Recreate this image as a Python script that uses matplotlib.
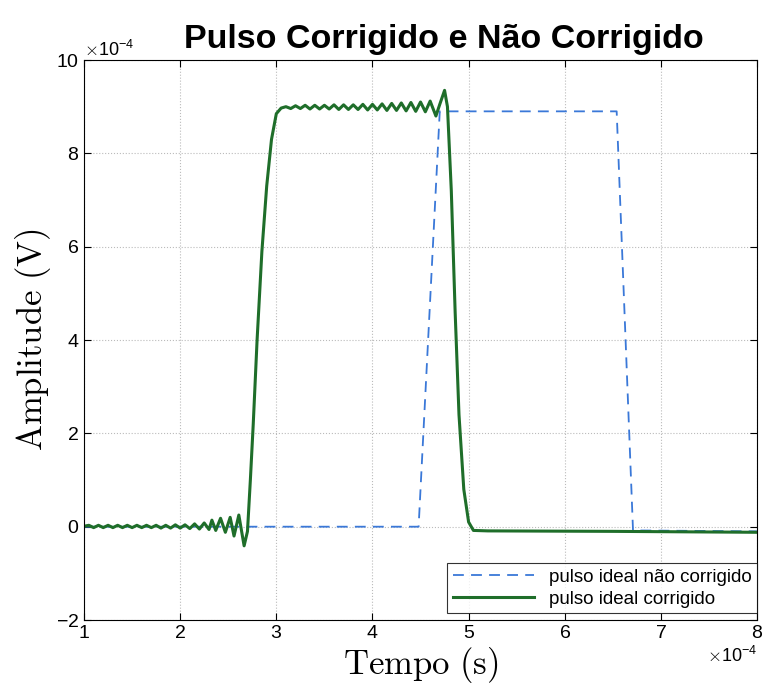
import matplotlib
matplotlib.use("Agg")
import matplotlib.pyplot as plt
from matplotlib.ticker import ScalarFormatter

# tempo e amplitude em unidades de 1e-4
t_ideal = [1.00, 4.48, 4.70, 6.54, 6.71, 8.00]
v_ideal = [0.0, 0.0, 8.9, 8.9, -0.08, -0.1]

t_corr = [1.00, 1.05, 1.10, 1.15, 1.20, 1.25, 1.30, 1.35, 1.40, 1.45, 1.50,
          1.55, 1.60, 1.65, 1.70, 1.75, 1.80, 1.85, 1.90, 1.95, 2.00, 2.05,
          2.10, 2.15, 2.20, 2.25, 2.30, 2.33, 2.37, 2.42, 2.47, 2.52, 2.56,
          2.61, 2.665, 2.70, 2.73, 2.76, 2.80, 2.85, 2.90, 2.95, 3.00, 3.05, 3.10,
          3.15, 3.20, 3.25, 3.30, 3.35, 3.40, 3.45, 3.50, 3.55, 3.60, 3.65,
          3.70, 3.75, 3.80, 3.85, 3.90, 3.95, 4.00, 4.05, 4.10, 4.15, 4.20,
          4.25, 4.30, 4.35, 4.40, 4.45, 4.50, 4.55, 4.60, 4.66, 4.70, 4.75,
          4.78, 4.82, 4.86, 4.90, 4.95, 5.00, 5.05, 5.20, 6.50, 8.00]
v_corr = [0.01, 0.03, -0.02, 0.03, -0.02, 0.03, -0.02, 0.03, -0.02, 0.03, -0.02,
          0.03, -0.02, 0.03, -0.02, 0.03, -0.03, 0.03, -0.03, 0.04, -0.03, 0.04,
          -0.04, 0.06, -0.05, 0.08, -0.06, 0.14, -0.08, 0.18, -0.12, 0.2, -0.2,
          0.25, -0.41, -0.1, 1.0, 2.2, 4.0, 5.9, 7.3, 8.3, 8.85, 8.97, 9.0,
          8.96, 9.02, 8.96, 9.03, 8.95, 9.03, 8.95, 9.03, 8.95, 9.04, 8.94,
          9.04, 8.94, 9.04, 8.94, 9.05, 8.93, 9.05, 8.93, 9.06, 8.92, 9.07,
          8.92, 9.08, 8.91, 9.09, 8.90, 9.10, 8.89, 9.12, 8.80, 9.05, 9.35,
          9.0, 7.2, 4.6, 2.4, 0.8, 0.1, -0.08, -0.09, -0.1, -0.12]

escala = 1e-4
x_ideal = [t * escala for t in t_ideal]
y_ideal = [v * escala for v in v_ideal]
x_corr = [t * escala for t in t_corr]
y_corr = [v * escala for v in v_corr]

plt.rcParams['mathtext.fontset'] = 'cm'
plt.rcParams['font.family'] = ['Liberation Sans', 'DejaVu Sans']

fig = plt.figure(figsize=(7.66, 6.93), dpi=100)
ax = fig.add_axes([0.1097, 0.1053, 0.8786, 0.8081])

ax.plot(x_ideal, y_ideal, '--', color='#3a78d8', linewidth=1.3, dashes=(6, 4),
        label='pulso ideal não corrigido')
ax.plot(x_corr, y_corr, '-', color='#1f6e2a', linewidth=2.2,
        label='pulso ideal corrigido', solid_joinstyle='round')

ax.set_xlim(1e-4, 8e-4)
ax.set_ylim(-2e-4, 10e-4)
ax.set_xticks([i * escala for i in range(1, 9)])
ax.set_yticks([i * escala for i in range(-2, 11, 2)])

for eixo in (ax.xaxis, ax.yaxis):
    fmt = ScalarFormatter(useMathText=True)
    fmt.set_powerlimits((-4, -4))
    eixo.set_major_formatter(fmt)
ax.xaxis.get_offset_text().set_fontsize(13)
ax.yaxis.get_offset_text().set_fontsize(13)

ax.tick_params(direction='in', labelsize=14, top=True, right=True, length=5)
ax.grid(True, linestyle=':', color='#bbbbbb', linewidth=0.8)

ax.text(0.535, 1.009, 'Pulso Corrigido e Não Corrigido', transform=ax.transAxes,
        ha='center', va='bottom', fontsize=24.5, fontweight='bold')
ax.set_xlabel(r'$\mathrm{Tempo\ (s)}$', fontsize=25, labelpad=2)
ax.set_ylabel(r'$\mathrm{Amplitude\ (V)}$', fontsize=25, labelpad=2)

leg = ax.legend(loc='lower right', bbox_to_anchor=(1.0, 0.012), fontsize=13.5,
                frameon=True, fancybox=False, edgecolor='black',
                borderaxespad=0.0, handlelength=4.3, borderpad=0.3,
                labelspacing=0.25)
leg.get_frame().set_linewidth(0.8)

fig.savefig('out.png', dpi=100)
